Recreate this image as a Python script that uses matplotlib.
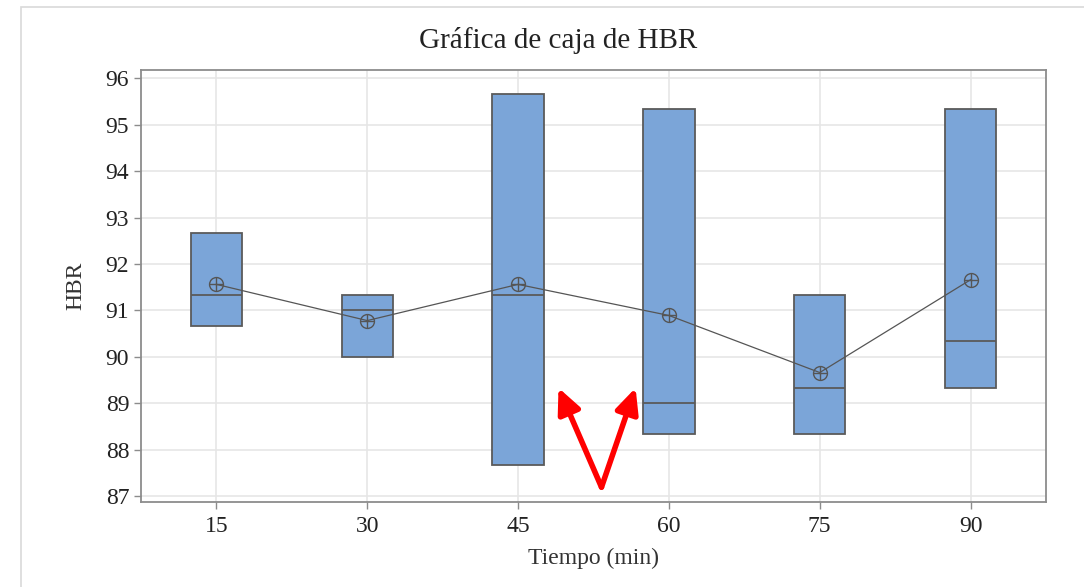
import matplotlib.pyplot as plt
from matplotlib.patches import Rectangle

# Minitab-style box plot: 3 observations per group, so no whiskers
tiempos = ["15", "30", "45", "60", "75", "90"]
q1 = [90.67, 90.00, 87.67, 88.33, 88.33, 89.33]
medianas = [91.33, 91.00, 91.33, 89.00, 89.33, 90.33]
q3 = [92.67, 91.33, 95.67, 95.33, 91.33, 95.33]
medias = [91.56, 90.78, 91.56, 90.89, 89.66, 91.66]

plt.rcParams["font.family"] = ["Liberation Serif", "DejaVu Serif"]

fig = plt.figure(figsize=(10.84, 5.87), dpi=100)
ax = fig.add_axes([141 / 1084, 1 - 502 / 587, (1046 - 141) / 1084, (502 - 70) / 587])

# outer chart frame
fig.patches.append(Rectangle((21 / 1084, -0.1), 1.2, 1 - 7 / 587 + 0.1,
                             transform=fig.transFigure, fill=False,
                             edgecolor="#d9d9d9", linewidth=1.2))

stats = []
for lo, med, hi, mu in zip(q1, medianas, q3, medias):
    stats.append(dict(q1=lo, med=med, q3=hi, whislo=lo, whishi=hi, mean=mu, fliers=[]))

pos = list(range(1, len(tiempos) + 1))
ax.bxp(stats, positions=pos, widths=0.34, patch_artist=True, showcaps=False,
       boxprops=dict(facecolor="#7BA5D8", edgecolor="#5a5a5a", linewidth=1.3),
       medianprops=dict(color="#5a5a5a", linewidth=1.3),
       whiskerprops=dict(linewidth=0), showmeans=False, zorder=3)

ax.plot(pos, medias, color="#555555", linewidth=0.9, zorder=4)
ax.plot(pos, medias, linestyle="none", marker="o", markersize=10,
        markerfacecolor="none", markeredgecolor="#555555", markeredgewidth=1.0, zorder=5)
ax.plot(pos, medias, linestyle="none", marker="+", markersize=10,
        markeredgecolor="#555555", markeredgewidth=1.0, zorder=5)

ax.set_xlim(0.5, 6.5)
ax.set_ylim(86.87, 96.18)
ax.set_xticks(pos)
ax.set_xticklabels(tiempos)
ax.set_yticks(range(87, 97))
ax.grid(True, color="#e6e6e6", linewidth=1.2, zorder=0)
ax.set_axisbelow(True)
for s in ax.spines.values():
    s.set_color("#8c8c8c")
    s.set_linewidth(1.3)
ax.tick_params(colors="#8c8c8c", labelcolor="#222222", labelsize=17, length=5, width=1)
ax.tick_params(axis="x", pad=5)

fig.text(558 / 1084, 1 - 40 / 587, "Gráfica de caja de HBR", fontsize=21,
         color="#222222", ha="center", va="center")
ax.set_xlabel("Tiempo (min)", fontsize=17, color="#333333", labelpad=8)
ax.set_ylabel("HBR", fontsize=17, color="#333333", labelpad=14)

# red annotation arrows
base = (3.553, 87.19)
for tip in [(3.268, 89.33), (3.779, 89.33)]:
    ax.annotate("", xy=tip, xytext=base,
                arrowprops=dict(arrowstyle="-|>,head_length=1.5,head_width=0.7",
                                color="#ff0000", linewidth=4, shrinkA=0, shrinkB=0),
                zorder=6)

fig.savefig("out.png", dpi=100)
